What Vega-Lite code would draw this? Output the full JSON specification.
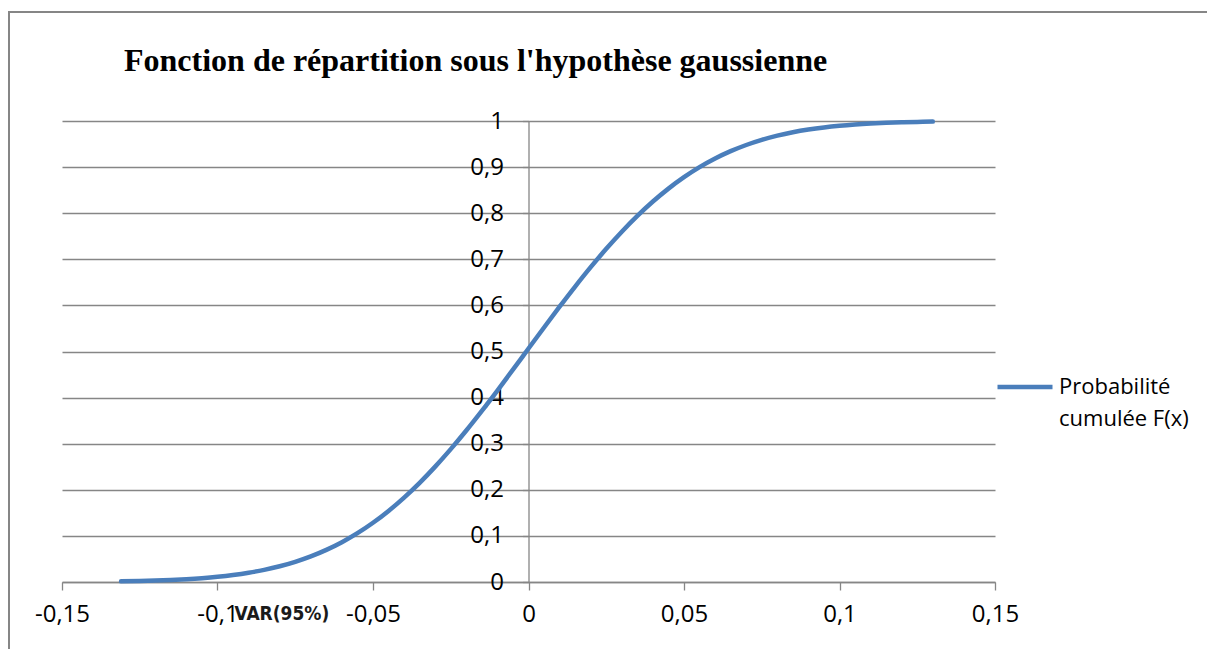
{
  "$schema": "https://vega.github.io/schema/vega-lite/v6.json",
  "width": 933,
  "height": 461,
  "autosize": {"type": "none"},
  "padding": {"left": 62, "top": 121, "right": 212, "bottom": 67},
  "background": "white",
  "config": {"view": {"stroke": null}, "font": "Open Sans", "style": {"guide-label": {"lineHeight": 32}}},
  "title": {
    "text": "Fonction de répartition sous l'hypothèse gaussienne",
    "font": "Liberation Serif",
    "fontSize": 32,
    "fontWeight": "bold",
    "color": "#000000",
    "anchor": "start",
    "frame": "group",
    "dx": 62,
    "offset": -99,
    "baseline": "bottom"
  },
  "datasets": {
    "curve": [
      {"x": -0.131, "F": 0.00137, "serie": "Probabilité cumulée F(x)"},
      {"x": -0.125, "F": 0.00213, "serie": "Probabilité cumulée F(x)"},
      {"x": -0.12, "F": 0.00305, "serie": "Probabilité cumulée F(x)"},
      {"x": -0.115, "F": 0.0043, "serie": "Probabilité cumulée F(x)"},
      {"x": -0.11, "F": 0.00599, "serie": "Probabilité cumulée F(x)"},
      {"x": -0.105, "F": 0.00825, "serie": "Probabilité cumulée F(x)"},
      {"x": -0.1, "F": 0.01122, "serie": "Probabilité cumulée F(x)"},
      {"x": -0.095, "F": 0.01509, "serie": "Probabilité cumulée F(x)"},
      {"x": -0.09, "F": 0.02004, "serie": "Probabilité cumulée F(x)"},
      {"x": -0.085, "F": 0.02632, "serie": "Probabilité cumulée F(x)"},
      {"x": -0.08, "F": 0.03415, "serie": "Probabilité cumulée F(x)"},
      {"x": -0.075, "F": 0.04382, "serie": "Probabilité cumulée F(x)"},
      {"x": -0.07, "F": 0.05557, "serie": "Probabilité cumulée F(x)"},
      {"x": -0.065, "F": 0.06973, "serie": "Probabilité cumulée F(x)"},
      {"x": -0.06, "F": 0.08641, "serie": "Probabilité cumulée F(x)"},
      {"x": -0.055, "F": 0.10596, "serie": "Probabilité cumulée F(x)"},
      {"x": -0.05, "F": 0.12854, "serie": "Probabilité cumulée F(x)"},
      {"x": -0.045, "F": 0.15424, "serie": "Probabilité cumulée F(x)"},
      {"x": -0.04, "F": 0.18316, "serie": "Probabilité cumulée F(x)"},
      {"x": -0.035, "F": 0.2152, "serie": "Probabilité cumulée F(x)"},
      {"x": -0.03, "F": 0.25029, "serie": "Probabilité cumulée F(x)"},
      {"x": -0.025, "F": 0.28822, "serie": "Probabilité cumulée F(x)"},
      {"x": -0.02, "F": 0.32863, "serie": "Probabilité cumulée F(x)"},
      {"x": -0.015, "F": 0.3712, "serie": "Probabilité cumulée F(x)"},
      {"x": -0.01, "F": 0.41535, "serie": "Probabilité cumulée F(x)"},
      {"x": -0.005, "F": 0.46061, "serie": "Probabilité cumulée F(x)"},
      {"x": 0, "F": 0.50642, "serie": "Probabilité cumulée F(x)"},
      {"x": 0.005, "F": 0.55211, "serie": "Probabilité cumulée F(x)"},
      {"x": 0.01, "F": 0.59716, "serie": "Probabilité cumulée F(x)"},
      {"x": 0.015, "F": 0.64091, "serie": "Probabilité cumulée F(x)"},
      {"x": 0.02, "F": 0.68292, "serie": "Probabilité cumulée F(x)"},
      {"x": 0.025, "F": 0.72267, "serie": "Probabilité cumulée F(x)"},
      {"x": 0.03, "F": 0.75981, "serie": "Probabilité cumulée F(x)"},
      {"x": 0.035, "F": 0.79409, "serie": "Probabilité cumulée F(x)"},
      {"x": 0.04, "F": 0.82526, "serie": "Probabilité cumulée F(x)"},
      {"x": 0.045, "F": 0.85328, "serie": "Probabilité cumulée F(x)"},
      {"x": 0.05, "F": 0.87809, "serie": "Probabilité cumulée F(x)"},
      {"x": 0.055, "F": 0.89981, "serie": "Probabilité cumulée F(x)"},
      {"x": 0.06, "F": 0.91855, "serie": "Probabilité cumulée F(x)"},
      {"x": 0.065, "F": 0.93452, "serie": "Probabilité cumulée F(x)"},
      {"x": 0.07, "F": 0.94795, "serie": "Probabilité cumulée F(x)"},
      {"x": 0.075, "F": 0.95909, "serie": "Probabilité cumulée F(x)"},
      {"x": 0.08, "F": 0.96821, "serie": "Probabilité cumulée F(x)"},
      {"x": 0.085, "F": 0.97559, "serie": "Probabilité cumulée F(x)"},
      {"x": 0.09, "F": 0.98147, "serie": "Probabilité cumulée F(x)"},
      {"x": 0.095, "F": 0.9861, "serie": "Probabilité cumulée F(x)"},
      {"x": 0.1, "F": 0.98969, "serie": "Probabilité cumulée F(x)"},
      {"x": 0.105, "F": 0.99244, "serie": "Probabilité cumulée F(x)"},
      {"x": 0.11, "F": 0.99453, "serie": "Probabilité cumulée F(x)"},
      {"x": 0.115, "F": 0.99609, "serie": "Probabilité cumulée F(x)"},
      {"x": 0.12, "F": 0.99724, "serie": "Probabilité cumulée F(x)"},
      {"x": 0.125, "F": 0.99807, "serie": "Probabilité cumulée F(x)"},
      {"x": 0.13, "F": 0.99867, "serie": "Probabilité cumulée F(x)"}
    ],
    "annotation": [
      {"label": "VAR(95%)", "x": -0.0793, "y": -0.069}
    ]
  },
  "layer": [
    {
      "data": {"values": [{"frame": "chart area"}]},
      "mark": {"type": "rect", "fill": null, "stroke": "#868686", "strokeWidth": 2},
      "encoding": {
        "x": {"datum": -0.16704, "type": "quantitative"},
        "x2": {"datum": 0.26},
        "y": {"datum": 1.2364, "type": "quantitative"},
        "y2": {"datum": -0.3}
      }
    },
    {
      "data": {"name": "curve"},
      "mark": {"type": "line", "strokeWidth": 4.5, "interpolate": "monotone", "strokeCap": "round"},
      "encoding": {
        "x": {
          "field": "x",
          "type": "quantitative",
          "scale": {"domain": [-0.15, 0.15], "nice": false, "zero": false},
          "axis": {
            "title": null,
            "values": [-0.15, -0.1, -0.05, 0, 0.05, 0.1, 0.15],
            "labelExpr": "replace(toString(datum.value), '.', ',')",
            "grid": false,
            "domainColor": "#868686",
            "domainWidth": 1.3,
            "tickColor": "#868686",
            "tickWidth": 1.3,
            "tickSize": 8,
            "labelFont": "Open Sans",
            "labelFontSize": 24,
            "labelColor": "#000000",
            "labelPadding": 12,
            "labelFlush": false
          }
        },
        "y": {
          "field": "F",
          "type": "quantitative",
          "scale": {"domain": [0, 1], "nice": false},
          "axis": {
            "title": null,
            "offset": -466.5,
            "values": [0, 0.1, 0.2, 0.3, 0.4, 0.5, 0.6, 0.7, 0.8, 0.9, 1],
            "labelExpr": "replace(toString(datum.value), '.', ',')",
            "grid": true,
            "gridColor": "#868686",
            "gridWidth": 1.3,
            "domainColor": "#868686",
            "domainWidth": 1.3,
            "tickColor": "#868686",
            "tickWidth": 1.3,
            "tickSize": 6,
            "labelFont": "Open Sans",
            "labelFontSize": 24,
            "labelColor": "#000000",
            "labelPadding": 19,
            "labelFlush": false
          }
        },
        "color": {
          "field": "serie",
          "type": "nominal",
          "scale": {"range": ["#4A7EBB"]},
          "legend": {
            "title": null,
            "orient": "none",
            "legendX": 933,
            "legendY": 236,
            "padding": 0,
            "symbolType": "stroke",
            "symbolSize": 3025,
            "symbolStrokeWidth": 4.5,
            "symbolStrokeColor": "#4A7EBB",
            "labelFont": "Open Sans",
            "labelFontSize": 22,
            "labelColor": "#000000",
            "labelOffset": 4,
            "labelLimit": 300,
            "labelExpr": "['Probabilité', 'cumulée F(x)']",
            "labelBaseline": "alphabetic",
            "encode": {"labels": {"update": {"dy": {"value": 7}}}}
          }
        }
      }
    },
    {
      "data": {"name": "annotation"},
      "mark": {"type": "text", "font": "Liberation Sans Narrow, DejaVu Sans Condensed, sans-serif", "fontWeight": "bold", "fontSize": 19, "color": "#1a1a1a", "align": "center", "baseline": "middle"},
      "encoding": {
        "x": {"field": "x", "type": "quantitative"},
        "y": {"field": "y", "type": "quantitative"},
        "text": {"field": "label"}
      }
    }
  ]
}
